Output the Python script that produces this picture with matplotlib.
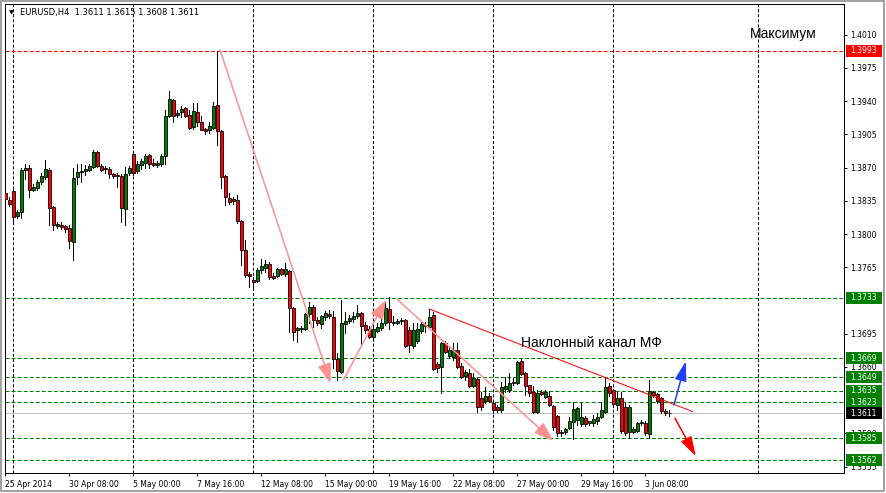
import matplotlib
matplotlib.use('Agg')
import matplotlib.pyplot as plt
import matplotlib.transforms as mtransforms
from matplotlib.patches import Rectangle
import numpy as np

plt.rcParams['font.family'] = ['DejaVu Sans']
plt.rcParams['lines.scale_dashes'] = False

# EURUSD H4 bars, 25 Apr 2014 16:00 .. 4 Jun 2014 08:00
opens = [1.3843, 1.3836, 1.3845, 1.3819, 1.3823, 1.3867, 1.3870, 1.3846, 1.3848, 1.3855,
         1.3860, 1.3867, 1.3828, 1.3808, 1.3809, 1.3808, 1.3806, 1.3792, 1.3860, 1.3865,
         1.3866, 1.3867, 1.3871, 1.3886, 1.3872, 1.3868, 1.3868, 1.3863, 1.3861, 1.3861,
         1.3826, 1.3864, 1.3884, 1.3866, 1.3873, 1.3875, 1.3883, 1.3875, 1.3873, 1.3874,
         1.3882, 1.3924, 1.3941, 1.3925, 1.3928, 1.3933, 1.3925, 1.3913, 1.3929, 1.3918,
         1.3911, 1.3910, 1.3912, 1.3936, 1.3908, 1.3861, 1.3838, 1.3835, 1.3836, 1.3814,
         1.3783, 1.3758, 1.3752, 1.3751, 1.3762, 1.3764, 1.3768, 1.3756, 1.3756, 1.3763,
         1.3758, 1.3761, 1.3722, 1.3699, 1.3700, 1.3700, 1.3716, 1.3723, 1.3709, 1.3705,
         1.3713, 1.3716, 1.3713, 1.3668, 1.3655, 1.3705, 1.3708, 1.3710, 1.3714, 1.3717,
         1.3704, 1.3700, 1.3692, 1.3698, 1.3701, 1.3706, 1.3721, 1.3707, 1.3706, 1.3708,
         1.3709, 1.3699, 1.3682, 1.3687, 1.3698, 1.3704, 1.3702, 1.3715, 1.3663, 1.3660,
         1.3685, 1.3672, 1.3670, 1.3678, 1.3661, 1.3650, 1.3654, 1.3640, 1.3647, 1.3627,
         1.3624, 1.3629, 1.3622, 1.3618, 1.3615, 1.3637, 1.3636, 1.3644, 1.3643, 1.3666,
         1.3654, 1.3641, 1.3634, 1.3613, 1.3634, 1.3628, 1.3629, 1.3619, 1.3608, 1.3592,
         1.3592, 1.3596, 1.3602, 1.3604, 1.3600, 1.3606, 1.3601, 1.3601, 1.3603, 1.3607,
         1.3613, 1.3640, 1.3636, 1.3620, 1.3627, 1.3618, 1.3592, 1.3592, 1.3593, 1.3601,
         1.3601, 1.3589, 1.3634, 1.3631, 1.3627, 1.3614, 1.3611]
highs = [1.3846, 1.3839, 1.3846, 1.3825, 1.3869, 1.3874, 1.3873, 1.3853, 1.3857, 1.3864,
         1.3878, 1.3869, 1.3829, 1.3813, 1.3813, 1.3809, 1.3809, 1.3869, 1.3874, 1.3874,
         1.3873, 1.3874, 1.3888, 1.3887, 1.3874, 1.3872, 1.3871, 1.3864, 1.3864, 1.3863,
         1.3871, 1.3872, 1.3885, 1.3877, 1.3879, 1.3884, 1.3884, 1.3879, 1.3877, 1.3884,
         1.3931, 1.3951, 1.3942, 1.3931, 1.3935, 1.3934, 1.3931, 1.3938, 1.3938, 1.3924,
         1.3912, 1.3918, 1.3939, 1.3993, 1.3910, 1.3862, 1.3843, 1.3839, 1.3841, 1.3815,
         1.3794, 1.3760, 1.3755, 1.3764, 1.3774, 1.3773, 1.3771, 1.3759, 1.3764, 1.3764,
         1.3769, 1.3762, 1.3723, 1.3702, 1.3703, 1.3717, 1.3728, 1.3725, 1.3713, 1.3715,
         1.3719, 1.3720, 1.3719, 1.3675, 1.3731, 1.3718, 1.3715, 1.3718, 1.3725, 1.3718,
         1.3707, 1.3703, 1.3703, 1.3706, 1.3712, 1.3727, 1.3734, 1.3714, 1.3710, 1.3712,
         1.3710, 1.3702, 1.3706, 1.3706, 1.3707, 1.3707, 1.3721, 1.3718, 1.3665, 1.3686,
         1.3687, 1.3681, 1.3685, 1.3685, 1.3664, 1.3657, 1.3658, 1.3654, 1.3648, 1.3634,
         1.3639, 1.3633, 1.3623, 1.3620, 1.3644, 1.3649, 1.3654, 1.3648, 1.3666, 1.3668,
         1.3655, 1.3641, 1.3640, 1.3636, 1.3636, 1.3636, 1.3635, 1.3620, 1.3609, 1.3594,
         1.3596, 1.3607, 1.3623, 1.3618, 1.3623, 1.3608, 1.3603, 1.3609, 1.3612, 1.3623,
         1.3649, 1.3643, 1.3637, 1.3634, 1.3634, 1.3623, 1.3620, 1.3597, 1.3602, 1.3604,
         1.3603, 1.3646, 1.3635, 1.3633, 1.3628, 1.3616, 1.3615]
lows = [1.3831, 1.3829, 1.3813, 1.3817, 1.3817, 1.3858, 1.3839, 1.3845, 1.3846, 1.3853,
        1.3858, 1.3809, 1.3804, 1.3806, 1.3805, 1.3802, 1.3785, 1.3773, 1.3853, 1.3855,
        1.3862, 1.3866, 1.3869, 1.3871, 1.3866, 1.3864, 1.3859, 1.3859, 1.3850, 1.3813,
        1.3810, 1.3862, 1.3862, 1.3864, 1.3868, 1.3869, 1.3870, 1.3872, 1.3871, 1.3872,
        1.3874, 1.3923, 1.3918, 1.3923, 1.3923, 1.3923, 1.3911, 1.3911, 1.3914, 1.3909,
        1.3905, 1.3906, 1.3911, 1.3894, 1.3848, 1.3831, 1.3832, 1.3832, 1.3812, 1.3767,
        1.3755, 1.3744, 1.3744, 1.3749, 1.3759, 1.3760, 1.3753, 1.3753, 1.3755, 1.3757,
        1.3756, 1.3697, 1.3688, 1.3686, 1.3697, 1.3699, 1.3706, 1.3702, 1.3704, 1.3701,
        1.3709, 1.3712, 1.3659, 1.3646, 1.3654, 1.3696, 1.3706, 1.3707, 1.3712, 1.3683,
        1.3696, 1.3691, 1.3690, 1.3697, 1.3699, 1.3704, 1.3700, 1.3704, 1.3705, 1.3705,
        1.3681, 1.3676, 1.3680, 1.3685, 1.3696, 1.3697, 1.3701, 1.3657, 1.3655, 1.3633,
        1.3675, 1.3669, 1.3667, 1.3659, 1.3648, 1.3646, 1.3639, 1.3639, 1.3613, 1.3615,
        1.3622, 1.3623, 1.3612, 1.3613, 1.3613, 1.3634, 1.3634, 1.3641, 1.3642, 1.3652,
        1.3630, 1.3629, 1.3612, 1.3612, 1.3630, 1.3627, 1.3619, 1.3594, 1.3587, 1.3587,
        1.3589, 1.3595, 1.3584, 1.3599, 1.3598, 1.3598, 1.3599, 1.3598, 1.3600, 1.3606,
        1.3612, 1.3629, 1.3618, 1.3615, 1.3590, 1.3588, 1.3585, 1.3590, 1.3592, 1.3599,
        1.3588, 1.3586, 1.3628, 1.3622, 1.3612, 1.3609, 1.3608]
closes = [1.3837, 1.3832, 1.3818, 1.3823, 1.3867, 1.3870, 1.3846, 1.3850, 1.3855, 1.3861,
          1.3868, 1.3827, 1.3809, 1.3811, 1.3807, 1.3805, 1.3793, 1.3859, 1.3865, 1.3866,
          1.3868, 1.3872, 1.3886, 1.3872, 1.3867, 1.3870, 1.3863, 1.3861, 1.3862, 1.3827,
          1.3863, 1.3869, 1.3864, 1.3874, 1.3877, 1.3882, 1.3874, 1.3873, 1.3875, 1.3882,
          1.3924, 1.3942, 1.3924, 1.3927, 1.3932, 1.3924, 1.3912, 1.3930, 1.3918, 1.3910,
          1.3908, 1.3914, 1.3935, 1.3908, 1.3860, 1.3839, 1.3834, 1.3837, 1.3814, 1.3783,
          1.3757, 1.3756, 1.3749, 1.3762, 1.3766, 1.3768, 1.3755, 1.3754, 1.3763, 1.3758,
          1.3763, 1.3722, 1.3697, 1.3701, 1.3701, 1.3716, 1.3723, 1.3709, 1.3706, 1.3714,
          1.3717, 1.3714, 1.3668, 1.3656, 1.3706, 1.3708, 1.3712, 1.3714, 1.3717, 1.3703,
          1.3699, 1.3692, 1.3700, 1.3702, 1.3706, 1.3722, 1.3707, 1.3706, 1.3708, 1.3709,
          1.3682, 1.3683, 1.3699, 1.3700, 1.3705, 1.3703, 1.3713, 1.3658, 1.3659, 1.3685,
          1.3676, 1.3678, 1.3678, 1.3660, 1.3649, 1.3655, 1.3640, 1.3648, 1.3618, 1.3618,
          1.3629, 1.3624, 1.3615, 1.3615, 1.3639, 1.3640, 1.3643, 1.3643, 1.3665, 1.3653,
          1.3640, 1.3633, 1.3613, 1.3633, 1.3632, 1.3634, 1.3620, 1.3597, 1.3590, 1.3590,
          1.3595, 1.3603, 1.3616, 1.3617, 1.3607, 1.3600, 1.3603, 1.3605, 1.3607, 1.3615,
          1.3639, 1.3633, 1.3621, 1.3627, 1.3593, 1.3590, 1.3618, 1.3595, 1.3601, 1.3602,
          1.3590, 1.3635, 1.3630, 1.3624, 1.3614, 1.3611, 1.3611]

# time axis labels (bar index -> text)
label_bars = [0, 16, 32, 48, 64, 80, 96, 112, 128, 144, 160]
label_texts = ['25 Apr 2014', '30 Apr 08:00', '5 May 00:00', '7 May 16:00', '12 May 08:00',
               '15 May 00:00', '19 May 16:00', '22 May 08:00', '27 May 00:00',
               '29 May 16:00', '3 Jun 08:00']
grid_bars = [2, 32, 62, 92, 122, 152, 188.25]

# 1.3730 and 1.3625 sit fully under the level boxes, so they are not printed
price_ticks = [1.4010, 1.3975, 1.3940, 1.3905, 1.3870, 1.3835, 1.3800, 1.3765,
               1.3695, 1.3660, 1.3590, 1.3555]
levels = [1.3733, 1.3669, 1.3649, 1.3635, 1.3623, 1.3585, 1.3562]
max_level = 1.3993
bid = 1.3611

# drawn objects: (bar, price) of tail and tip
pink_arrows = [((53.75, 1.3994), (81.4, 1.3643)),
               ((84.6, 1.3646), (95.25, 1.3731)),
               ((98.1, 1.3731), (137.1, 1.3582))]
channel_line = ((106.1, 1.3721), (171.9, 1.3613))
blue_arrow = ((167.25, 1.3620), (170.2, 1.3666))
red_arrow = ((167.5, 1.3606), (172.7, 1.3566))

PX = 0.72  # one pixel in points at 100 dpi
GREEN = '#008000'

fig = plt.figure(figsize=(8.86, 4.93), dpi=100)
ax = fig.add_axes([5 / 886, 20 / 493, 839 / 886, 469 / 493])
ax.set_xlim(0, 209.75)
ax.set_ylim(1.354832, 1.404221)

o = np.array(opens)
h = np.array(highs)
l = np.array(lows)
c = np.array(closes)
x = np.arange(len(o))
up = c >= o
lo = np.minimum(o, c)
hgt = np.abs(c - o)

# grid + levels
for g in grid_bars:
    ax.axvline(g, color='black', lw=PX, ls=(0, (2.2, 1.45)), zorder=0.5)
for lv in levels:
    ax.axhline(lv, color=GREEN, lw=PX, ls=(0, (2.9, 1.45)), zorder=1)
ax.axhline(max_level, color='#FF0000', lw=PX, ls=(0, (2.9, 1.45)), zorder=1)
ax.axhline(bid, color='#C0C0C0', lw=PX, zorder=1)

# candles: black wick, coloured body with a thin black outline
ax.vlines(x, l, h, color='black', lw=PX, zorder=2, antialiased=False)
ax.bar(x[up], hgt[up], bottom=lo[up], width=0.75, color=GREEN, edgecolor='black',
       lw=0.6, zorder=3)
ax.bar(x[~up], hgt[~up], bottom=lo[~up], width=0.75, color='#FF0000', edgecolor='black',
       lw=0.6, zorder=3)

# objects
for tail, tip in pink_arrows:
    ax.annotate('', xy=tip, xytext=tail,
                arrowprops=dict(arrowstyle='-|>,head_length=1.0,head_width=0.35', color='#FF9090',
                                lw=1.1, shrinkA=0, shrinkB=0, mutation_scale=12), zorder=5)
ax.plot([channel_line[0][0], channel_line[1][0]], [channel_line[0][1], channel_line[1][1]],
        color='#FF0000', lw=PX, zorder=5)
ax.annotate('', xy=blue_arrow[1], xytext=blue_arrow[0],
            arrowprops=dict(arrowstyle='-|>,head_length=1.0,head_width=0.3', color='#2040FF',
                            lw=1.1, shrinkA=0, shrinkB=0, mutation_scale=12), zorder=5)
ax.annotate('', xy=red_arrow[1], xytext=red_arrow[0],
            arrowprops=dict(arrowstyle='-|>,head_length=1.0,head_width=0.3', color='#FF0000',
                            lw=1.1, shrinkA=0, shrinkB=0, mutation_scale=12), zorder=5)

ax.text(129, 1.36807, 'Наклонный канал МФ', fontsize=10, family=['Liberation Sans', 'DejaVu Sans'],
        va='baseline', ha='left', zorder=6)
ax.text(186.25, 1.40061, 'Максимум', fontsize=10, family=['Liberation Sans', 'DejaVu Sans'],
        va='baseline', ha='left', zorder=6)

# axes styling
for s in ax.spines.values():
    s.set_linewidth(PX)
ax.yaxis.tick_right()
ax.set_yticks(price_ticks)
ax.set_yticklabels([f'{v:.4f}' for v in price_ticks])
ax.tick_params(axis='y', length=2.2, width=PX, pad=2.6, labelsize=5.5)
ax.set_xticks(label_bars)
ax.set_xticklabels(label_texts, ha='left')
ax.tick_params(axis='x', length=2.5, width=PX, pad=2.2, labelsize=5.5)

# price labels on the right scale
tr = mtransforms.blended_transform_factory(ax.transAxes, ax.transData)
half = 6 / 9496
box_x0 = 1 + 2 / 839
box_w = 36 / 839
for lv, fc in [(lv, GREEN) for lv in levels] + [(max_level, '#FF0000'), (bid, 'black')]:
    ax.add_patch(Rectangle((box_x0, lv - half), box_w, 2 * half, transform=tr,
                           facecolor=fc, edgecolor='none', clip_on=False, zorder=7))
    ax.text(box_x0 + 4 / 839, lv, f'{lv:.4f}', transform=tr, color='white', fontsize=5.5,
            va='center', ha='left', clip_on=False, zorder=8)

# header
fig.text(11.3 / 886, 1 - 12.5 / 493, '▼', fontsize=4.5, ha='center', va='center')
fig.text(20.5 / 886, 1 - 12.7 / 493, 'EURUSD,H4  1.3611 1.3615 1.3608 1.3611',
         fontsize=6, ha='left', va='center')

# window border
fig.patches.append(Rectangle((0.5 / 886, 2 / 493), 883 / 886, 490 / 493, transform=fig.transFigure,
                             fill=False, edgecolor='#A0A0A0', lw=1.4))

fig.savefig('out.png', dpi=100)
